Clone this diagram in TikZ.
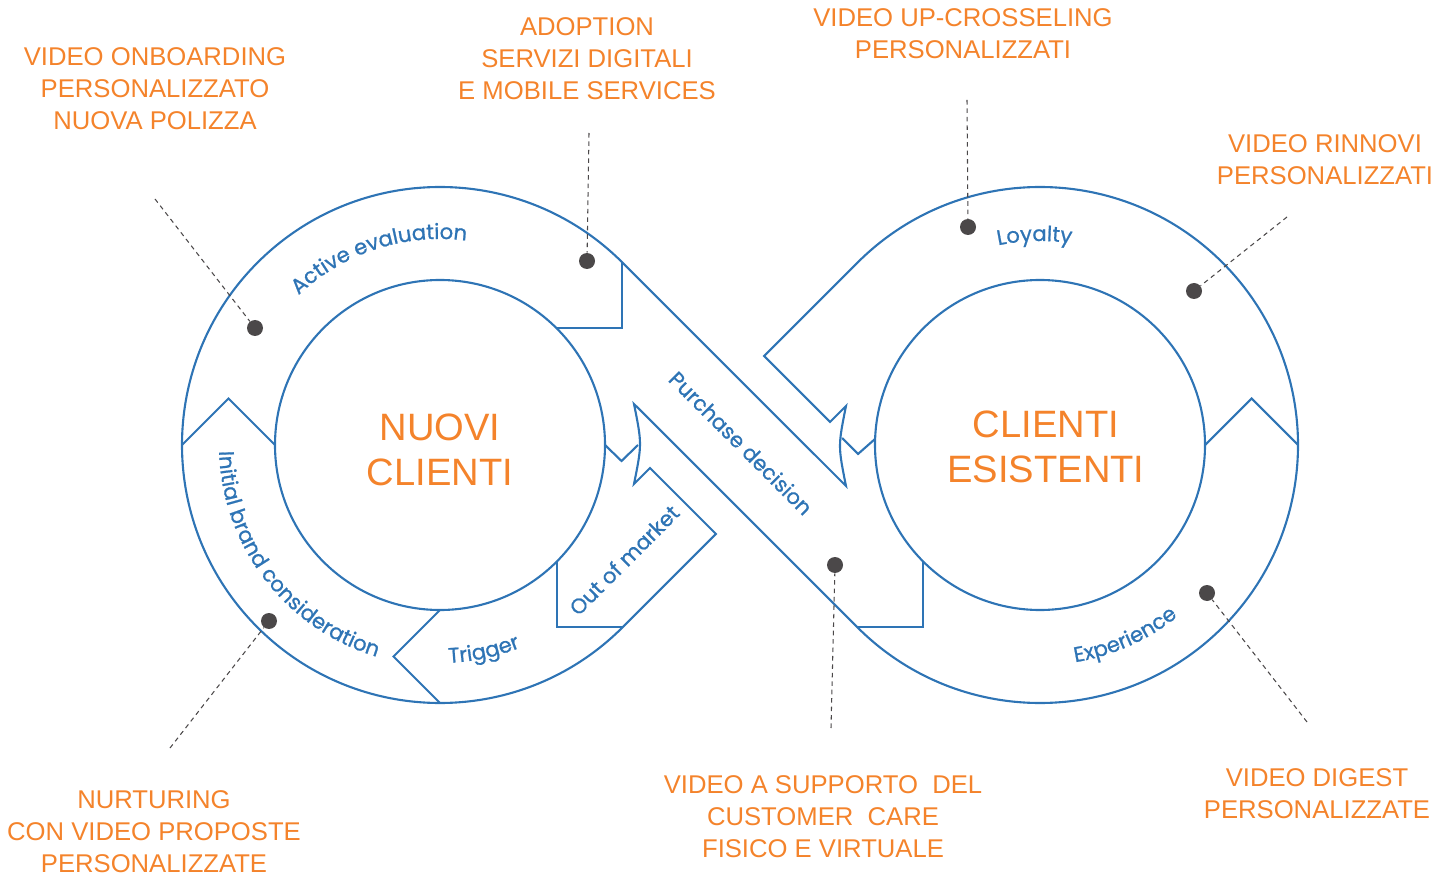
\documentclass[tikz,border=0pt]{standalone}
\usepackage{fontspec}
\setmainfont{Liberation Sans}
\newfontfamily\stagefamily{Poppins}[FakeBold=0.9]
\usepackage{xcolor}
\definecolor{RingBlue}{HTML}{2E74B5}
\definecolor{TagOrange}{HTML}{F4832B}
\definecolor{PinGrey}{HTML}{4B4849}
\usepackage{tikz}
\usetikzlibrary{calc,decorations.text}
\newcommand\Rin{165}
\newcommand\Rout{258}
\newcommand\TagFont{\fontsize{14.6}{18.2}\selectfont}
\newcommand\HubFont{\fontsize{21.7}{25.6}\selectfont}
\newcommand\StageFont{\stagefamily\fontsize{12}{14}\selectfont\color{RingBlue}}
\tikzstyle{ring}=[draw=RingBlue,line width=1.2pt,line join=miter]
\tikzstyle{tag}=[text=TagOrange,align=center,font=\TagFont,inner sep=0pt]
\tikzstyle{hub}=[text=TagOrange,align=center,font=\HubFont,inner sep=0pt]
\tikzstyle{stage}=[font=\StageFont,inner sep=0pt]
\tikzstyle{pin}=[circle,fill=PinGrey,inner sep=0pt,minimum size=0.32cm]
\tikzstyle{leader}=[draw=PinGrey,line width=0.6pt,dash pattern=on 2.6pt off 2.2pt]
\tikzset{arcstage/.style={decorate,decoration={text along path,text align=center,text={|\StageFont|#1}}}}

\begin{document}
\begin{tikzpicture}[x=0.02cm,y=0.02cm]
      \useasboundingbox (0,0) rectangle (1437,-878);
      \coordinate (L) at (440,-445);
      \coordinate (R) at (1040,-445);
      \coordinate (LO45) at ($(L)+(45:\Rout)$);
      \coordinate (LOm45) at ($(L)+(-45:\Rout)$);
      \coordinate (RO135) at ($(R)+(135:\Rout)$);
      \coordinate (RO225) at ($(R)+(225:\Rout)$);
      \draw[ring] (LO45) arc[start angle=45,end angle=315,radius=\Rout]
            -- (715.9,-533.9) -- (650,-468) -- (634,-484)
            .. controls (642,-444) .. (634,-404)
            -- (RO225) arc[start angle=225,end angle=495,radius=\Rout]
            -- (764.1,-356.1) -- (830,-422) -- (846,-406)
            .. controls (838,-446) .. (846,-486) -- cycle;
      \draw[ring] (L) circle[radius=\Rin];
      \draw[ring] (R) circle[radius=\Rin];
      \draw[ring] ($(L)+(45:\Rin)$) -| (LO45);
      \draw[ring] ($(L)+(-45:\Rin)$) |- (LOm45);
      \draw[ring] ($(R)+(225:\Rin)$) |- (RO225);
      \draw[ring] ($(L)+(180:\Rout)$) -- (228.5,-398.5) -- ($(L)+(180:\Rin)$);
      \draw[ring] ($(R)+(0:\Rin)$) -- (1251.5,-398.5) -- ($(R)+(0:\Rout)$);
      \draw[ring] ($(L)+(270:\Rin)$) -- (393.5,-656.5) -- ($(L)+(270:\Rout)$);
      \draw[ring] (605,-445) -- (621.5,-461) -- (638,-445);
      \draw[ring] (842.2,-438) -- (858,-454) -- (875,-439);
      \path[arcstage={Active evaluation}] ($(L)+(150:206)$) arc[start angle=150,end angle=66,radius=206];
      \path[arcstage={Initial brand consideration}] ($(L)+(160:221)$) arc[start angle=160,end angle=275,radius=221];
      \path[arcstage={Trigger}] ($(L)+(262:218)$) arc[start angle=262,end angle=302,radius=218];
      \path[arcstage={Loyalty}] ($(R)+(130:204)$) arc[start angle=130,end angle=53,radius=204];
      \path[arcstage={Experience}] ($(R)+(260:220)$) arc[start angle=260,end angle=328,radius=220];
      \node[stage,rotate=-45] (buy) at (741,-443) {Purchase decision};
      \node[stage,rotate=45] (out) at (624,-560) {Out of market};
      \node[hub] (nuovi) at (440,-450) {NUOVI\\CLIENTI};
      \node[hub] (esistenti) at (1046,-447) {CLIENTI\\ESISTENTI};
      \node[tag] (onboard) at (155,-89) {VIDEO ONBOARDING\\PERSONALIZZATO\\NUOVA POLIZZA};
      \node[tag] (adoption) at (587,-59) {ADOPTION\\SERVIZI DIGITALI\\E MOBILE SERVICES};
      \node[tag] (upsell) at (963,-34) {VIDEO UP-CROSSELING\\PERSONALIZZATI};
      \node[tag] (renew) at (1325,-160) {VIDEO RINNOVI\\PERSONALIZZATI};
      \node[tag] (nurture) at (154,-832) {NURTURING\\CON VIDEO PROPOSTE\\PERSONALIZZATE};
      \node[tag] (care) at (823,-817) {VIDEO A SUPPORTO~ DEL\\CUSTOMER~ CARE\\FISICO E VIRTUALE};
      \node[tag] (digest) at (1317,-794) {VIDEO DIGEST\\PERSONALIZZATE};
      \node[pin] (p1) at (255,-328) {};
      \node[pin] (p2) at (587,-261) {};
      \node[pin] (p3) at (968,-227) {};
      \node[pin] (p4) at (1194,-291) {};
      \node[pin] (p5) at (835,-565) {};
      \node[pin] (p6) at (1207,-593) {};
      \node[pin] (p7) at (269,-621) {};
      \coordinate (c1) at (155,-199);
      \coordinate (c2) at (589,-133);
      \coordinate (c3) at (967,-100);
      \coordinate (c4) at (1287,-217);
      \coordinate (c5) at (831,-728);
      \coordinate (c6) at (1307,-722);
      \coordinate (c7) at (170,-748);
      \draw[leader] (c1) -- (p1);
      \draw[leader] (c2) -- (p2);
      \draw[leader] (c3) -- (p3);
      \draw[leader] (c4) -- (p4);
      \draw[leader] (c5) -- (p5);
      \draw[leader] (c6) -- (p6);
      \draw[leader] (c7) -- (p7);
   \end{tikzpicture}
\end{document}
